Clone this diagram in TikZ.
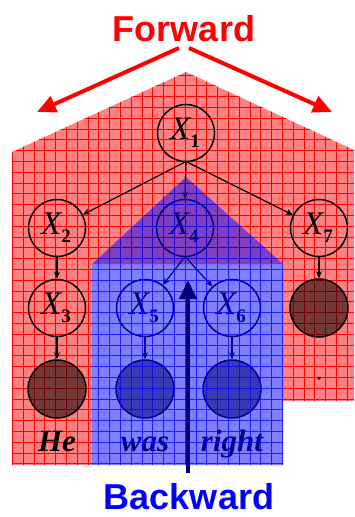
\documentclass[tikz,border=0pt]{standalone}
\usepackage{fontspec}
\setmainfont{Liberation Serif}
\newfontfamily\arialb{Liberation Sans}
\usetikzlibrary{arrows.meta}
\definecolor{navyc}{RGB}{0,0,128}
\begin{document}
\begin{tikzpicture}[x=1pt,y=-1pt,
  var/.style={circle,draw=black,line width=1.5pt,minimum size=57pt,inner sep=0pt,font=\fontsize{33}{33}\selectfont},
  leaf/.style={circle,draw=black,line width=1.5pt,minimum size=58pt,inner sep=0pt,fill=black,fill opacity=0.55},
  edge/.style={line width=1.2pt,-{Stealth[length=7pt,width=6pt]}},
  word/.style={anchor=base,font=\fontsize{31}{31}\selectfont\bfseries\itshape},
  bigtxt/.style={anchor=base,inner sep=0pt,font=\fontsize{36}{36}\selectfont\arialb\bfseries},
  bigarrow/.style={line width=4pt,-{Triangle[length=19pt,width=17pt]}},
  gridr/.style={red,line width=0.55pt},
  gridb/.style={blue,opacity=0.75,line width=0.55pt},
]
\useasboundingbox (0,0) rectangle (354,517);
% red region
\def\redpath{(12,152) -- (186,72) -- (354,150) -- (354,401) -- (283,401) -- (283,264) -- (92,264) -- (92,465) -- (12,465) -- cycle}
\fill[red!50] \redpath;
\begin{scope}
\clip \redpath;
\foreach \i in {0,...,35} {\draw[gridr] (1.5+\i*10.8,60) -- (1.5+\i*10.8,470);}
\foreach \j in {0,...,45} {\draw[gridr] (0,64+\j*10.8) -- (360,64+\j*10.8);}
\end{scope}
% nodes
\newcommand{\xlab}[1]{\kern-2pt\textit{X}\kern-1pt\raisebox{-8pt}{\fontsize{19}{19}\selectfont\bfseries #1}}
\node[var] (x1) at (186,133) {\xlab{1}};
\node[var] (x2) at (57,228) {\xlab{2}};
\node[var] (x3) at (57,308) {\xlab{3}};
\node[var] (x4) at (185,228) {\xlab{4}};
\node[var] (x5) at (145,308) {\xlab{5}};
\node[var] (x6) at (232,308) {\xlab{6}};
\node[var] (x7) at (319,228) {\xlab{7}};
\node[leaf] (he) at (57,389) {};
\node[leaf] (wa) at (145,389) {};
\node[leaf] (ri) at (232,389) {};
\node[leaf] (l7) at (319,308) {};
\node[circle,fill=black,inner sep=0pt,minimum size=3.5pt] (dot) at (319,378) {};
\node[word] (whe) at (57,451) {He};
\node[word] (wwa) at (145,451) {was};
\node[word] (wri) at (232,451) {right};
% edges
\coordinate (s1) at (186,161.5);
\coordinate (s4) at (185,256.5);
\draw[edge] (s1) -- (x2);
\draw[edge] (s1) -- (x4.north);
\draw[edge] (s1) -- (x7);
\draw[edge] (s4) -- (x5);
\draw[edge] (s4) -- (x6);
\draw[edge] (x2) -- (x3);
\draw[edge] (x3) -- (he);
\draw[edge] (x5) -- (wa);
\draw[edge] (x6) -- (ri);
\draw[edge] (x7) -- (l7);
% blue region
\def\bluepath{(92,264) -- (186,177) -- (283,264) -- (283,465) -- (92,465) -- cycle}
\fill[blue,opacity=0.5] \bluepath;
\begin{scope}
\clip \bluepath;
\foreach \i in {0,...,35} {\draw[gridb] (1.5+\i*10.8,60) -- (1.5+\i*10.8,470);}
\foreach \j in {0,...,45} {\draw[gridb] (0,64+\j*10.8) -- (360,64+\j*10.8);}
\end{scope}
% labels and big arrows
\node[bigtxt,text=red] (fw) at (184,41) {Forward};
\node[bigtxt,text=blue] (bw) at (189,509) {Backward};
\coordinate (fl) at (179,48);
\coordinate (fr) at (189,48);
\coordinate (tl) at (37,112);
\coordinate (tr) at (332,112);
\draw[bigarrow,red] (fl) -- (tl);
\draw[bigarrow,red] (fr) -- (tr);
\coordinate (bb) at (188,473);
\coordinate (bt) at (188,280);
\draw[bigarrow,navyc] (bb) -- (bt);
\end{tikzpicture}
\end{document}
